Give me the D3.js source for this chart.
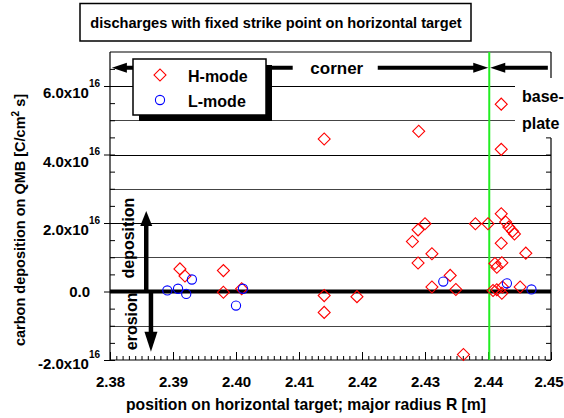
<!DOCTYPE html>
<html><head><meta charset="utf-8">
<script src="https://cdn.jsdelivr.net/npm/d3@7"></script>
<style>
body{margin:0;background:#fff}
svg text{font-family:"Liberation Sans",Arial,Helvetica,sans-serif;font-weight:bold;fill:#000}
</style>
</head><body><svg id="c" width="564" height="418"></svg>
<script>
// ---- data (values in units of 1e16 C/(cm^2 s)) ----
const hModeR = [2.3911,2.3919,2.3980,2.3980,2.4009,2.4140,2.4140,2.4140,2.4192,2.4290,
                2.4300,2.4289,2.4280,2.4311,2.4289,2.4340,2.4311,2.4349,2.4361,2.4380,
                2.4400,2.4421,2.4421,2.4421,2.4428,2.4433,2.4439,2.4442,2.4421,2.4460,
                2.4422,2.4411,2.4414,2.4451,2.4408,2.4414,2.4422,2.4423];
const hModeV = [0.66,0.45,0.61,-0.02,0.08,4.45,-0.12,-0.61,-0.15,4.68,
                1.98,1.80,1.46,1.10,0.83,0.47,0.13,0.06,-1.84,1.98,
                1.98,5.47,4.15,2.27,2.03,1.88,1.76,1.68,1.41,1.12,
                0.84,0.82,0.71,0.13,0.03,0.05,-0.05,0.13];
const lModeR = [2.3891,2.3908,2.3921,2.3930,2.4000,2.4011,2.4329,2.4430,2.4469];
const lModeV = [0.03,0.08,-0.07,0.35,-0.41,0.08,0.29,0.24,0.06];
const strikePointR = 2.4402;
const xTickValues = [2.38,2.39,2.40,2.41,2.42,2.43,2.44,2.45];
const xTickLabels = ["2.38","2.39","2.40","2.41","2.42","2.43","2.44","2.45"];
const yTickValues = [-2,0,2,4,6];
const yTickMantissa = ["-2.0x10","0.0","2.0x10","4.0x10","6.0x10"];
const yTickExponent = ["16","","16","16","16"];
const gridValues = [-1,1,2,3,4,5,6];
const legendLabels = ["H-mode","L-mode"];
const titleText = "discharges with fixed strike point on horizontal target";
const xTitle = "position on horizontal target; major radius R [m]";

// ---- layout ----
const L=110, R=551, T=52, B=360;
const svg = d3.select("#c");
const x = d3.scaleLinear().domain([2.38,2.45]).range([L,R]);
const y = d3.scaleLinear().domain([-2,7]).range([B,51.75]);

// title box
svg.append("rect").attr("x",80).attr("y",3.5).attr("width",391).attr("height",37.5)
  .attr("fill","#fff").attr("stroke","#000").attr("stroke-width",1.5);
svg.append("text").attr("x",276).attr("y",28).attr("text-anchor","middle")
  .style("font-size","14.6px").text(titleText);

// gridlines
svg.append("g").selectAll("line").data(gridValues).join("line")
  .attr("x1",L).attr("x2",d=> d>=5 ? 515 : R)
  .attr("y1",d=>Math.round(y(d))+0.5).attr("y2",d=>Math.round(y(d))+0.5)
  .attr("stroke",(d)=> (d%2===0)?"#000":"#444").attr("stroke-width",1.2);

// frame
svg.append("line").attr("x1",L).attr("x2",R).attr("y1",T).attr("y2",T).attr("stroke","#000").attr("stroke-width",1.2);
svg.append("line").attr("x1",L).attr("x2",L).attr("y1",T).attr("y2",B).attr("stroke","#000").attr("stroke-width",1.2);
svg.append("line").attr("x1",L).attr("x2",R).attr("y1",B).attr("y2",B).attr("stroke","#000").attr("stroke-width",1.2);
svg.append("line").attr("x1",R).attr("x2",R).attr("y1",T).attr("y2",78).attr("stroke","#000").attr("stroke-width",1.2);
svg.append("line").attr("x1",R).attr("x2",R).attr("y1",138).attr("y2",B).attr("stroke","#000").attr("stroke-width",1.2);

// bottom axis: minor + major ticks
const axMinor = svg.append("g").attr("transform",`translate(0,${B})`)
  .call(d3.axisBottom(x).tickValues(x.ticks(70)).tickSize(-4).tickFormat(""));
axMinor.select(".domain").remove();
const axMajor = svg.append("g").attr("transform",`translate(0,${B})`)
  .call(d3.axisBottom(x).tickValues(xTickValues).tickSize(-8).tickPadding(16)
        .tickFormat((d,i)=>xTickLabels[i]));
axMajor.select(".domain").remove();
axMajor.selectAll("text").style("font-size","15px").style("font-family","'Liberation Sans',Arial,sans-serif").style("font-weight","bold");
axMajor.selectAll(".tick").filter((d,i)=>i===xTickValues.length-1).select("text").attr("x",-2.5);
svg.selectAll(".tick line").attr("stroke","#000");

// left axis ticks
const axL = svg.append("g").attr("transform",`translate(${L},0)`)
  .call(d3.axisLeft(y).tickValues(yTickValues).tickSize(6).tickFormat(""));
axL.select(".domain").remove();
const axL2 = svg.append("g").attr("transform",`translate(${L},0)`)
  .call(d3.axisLeft(y).tickValues(y.ticks(18).filter(v=>v<=6.5)).tickSize(-5).tickFormat(""));
axL2.select(".domain").remove();
// right axis ticks
const axR = svg.append("g").attr("transform",`translate(${R},0)`)
  .call(d3.axisRight(y).tickValues(y.ticks(18).filter(v=>v<=4.5)).tickSize(-5).tickFormat(""));
axR.select(".domain").remove();
svg.selectAll(".tick line").attr("stroke","#000");

// y tick labels
const yl = svg.append("g").selectAll("text").data(yTickValues).join("text")
  .attr("text-anchor","end").style("font-size","15px")
  .attr("x",(d,i)=> yTickExponent[i] ? 100 : 90)
  .attr("y",(d,i)=> y(d) + (yTickExponent[i] ? (d < 0 ? 9 : 12) : 5.5));
yl.append("tspan").text((d,i)=>yTickMantissa[i]);
yl.filter((d,i)=>yTickExponent[i]).append("tspan").attr("dy",-11.5).style("font-size","10px")
  .text((d)=>yTickExponent[yTickValues.indexOf(d)]);

// axis titles
svg.append("text").attr("x",306).attr("y",410).attr("text-anchor","middle")
  .style("font-size","15.7px").text(xTitle);
const yt = svg.append("text").attr("transform","translate(25,220) rotate(-90)")
  .attr("text-anchor","middle").style("font-size","14.5px");
yt.append("tspan").text("carbon deposition on QMB [C/cm");
yt.append("tspan").attr("dy",-6).style("font-size","10px").text("2");
yt.append("tspan").attr("dy",6).text(" s]");

// zero line
svg.append("line").attr("x1",L).attr("x2",R).attr("y1",y(0)).attr("y2",y(0))
  .attr("stroke","#000").attr("stroke-width",4);

// strike point line
svg.append("line").attr("x1",x(strikePointR)).attr("x2",x(strikePointR)).attr("y1",T).attr("y2",B)
  .attr("stroke","#22ee22").attr("stroke-width",2);

// arrows helper
function hArrow(x0,x1,yy,head){ // tip at x1
  const dir = Math.sign(x1-x0);
  const g = svg.append("g");
  g.append("line").attr("x1",x0).attr("x2",x1-dir*head+dir).attr("y1",yy).attr("y2",yy)
    .attr("stroke","#000").attr("stroke-width",4);
  g.append("path").attr("d",`M${x1},${yy} L${x1-dir*head},${yy-5} L${x1-dir*head},${yy+5} Z`).attr("fill","#000");
}
function vArrow(xx,y0,y1,head,w){
  const dir = Math.sign(y1-y0);
  const g = svg.append("g");
  g.append("line").attr("x1",xx).attr("x2",xx).attr("y1",y0).attr("y2",y1-dir*head+dir)
    .attr("stroke","#000").attr("stroke-width",4.5);
  g.append("path").attr("d",`M${xx},${y1} L${xx-w/2},${y1-dir*head} L${xx+w/2},${y1-dir*head} Z`).attr("fill","#000");
}
const yCorner = y(6.53);
hArrow(x(2.4090), x(2.3803), yCorner, 15);
hArrow(x(2.4225), x(strikePointR)-1, yCorner, 15);
hArrow(x(2.4495), x(strikePointR)+1, yCorner, 15);
svg.append("text").attr("x",x(2.4160)).attr("y",yCorner+6).attr("text-anchor","middle")
  .style("font-size","17px").text("corner");
vArrow(x(2.38575), y(0), y(2.35), 15, 12);
vArrow(x(2.3865), y(0), y(-1.76), 20, 13);
svg.append("text").attr("transform",`translate(134,${y(1.56)}) rotate(-90)`).attr("text-anchor","middle")
  .style("font-size","16px").text("deposition");
svg.append("text").attr("transform",`translate(136.5,${y(-0.87)}) rotate(-90)`).attr("text-anchor","middle")
  .style("font-size","16px").text("erosion");
svg.append("text").attr("x",522).attr("y",101.5).style("font-size","16px").text("base-");
svg.append("text").attr("x",522).attr("y",129).style("font-size","16px").text("plate");

// points
const diamond = d3.symbol().type(d3.symbolSquare).size(72);
svg.append("g").selectAll("path").data(hModeR).join("path")
  .attr("d",diamond)
  .attr("transform",(d,i)=>`translate(${x(d)},${y(hModeV[i])}) rotate(45)`)
  .attr("fill","none").attr("stroke","#ff0000").attr("stroke-width",1.1);
svg.append("g").selectAll("circle").data(lModeR).join("circle")
  .attr("cx",d=>x(d)).attr("cy",(d,i)=>y(lModeV[i])).attr("r",4.6)
  .attr("fill","none").attr("stroke","#0000ff").attr("stroke-width",1.1);

// legend
const lg = svg.append("g");
lg.append("rect").attr("x",139).attr("y",65).attr("width",133).attr("height",56).attr("fill","#000");
lg.append("rect").attr("x",133).attr("y",59).attr("width",133).attr("height",56)
  .attr("fill","#fff").attr("stroke","#000").attr("stroke-width",1.5);
lg.append("path").attr("d",diamond).attr("transform","translate(160,75) rotate(45)")
  .attr("fill","none").attr("stroke","#ff0000").attr("stroke-width",1.1);
lg.append("circle").attr("cx",160).attr("cy",100).attr("r",4.6)
  .attr("fill","none").attr("stroke","#0000ff").attr("stroke-width",1.1);
lg.selectAll("text").data(legendLabels).join("text")
  .attr("x",188).attr("y",(d,i)=>81.5+i*25).style("font-size","16px").text(d=>d);
</script></body></html>
